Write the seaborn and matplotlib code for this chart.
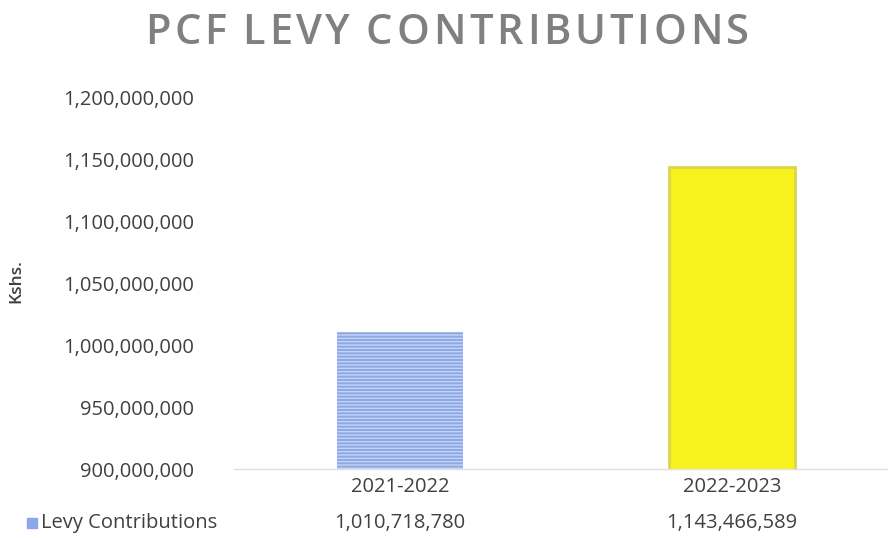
import matplotlib
matplotlib.use("Agg")
import matplotlib.pyplot as plt
import seaborn as sns
import pandas as pd
import matplotlib.transforms as mtrans

categories = ["2021-2022", "2022-2023"]
values = [1010718780, 1143466589]
series_name = "Levy Contributions"
value_labels = ["1,010,718,780", "1,143,466,589"]
yticks = [900000000, 950000000, 1000000000, 1050000000, 1100000000, 1150000000, 1200000000]
title = "PCF LEVY CONTRIBUTIONS"

sns.set_theme(style="white")
plt.rcParams['font.family'] = ['Open Sans', 'DejaVu Sans']

df = pd.DataFrame({"Year": categories, "Value": values})

fig = plt.figure(figsize=(8.88, 5.38), dpi=100)
ax = fig.add_axes([234/888, 1-469/538, (888-234)/888, (469-97)/538])

sns.barplot(data=df, x="Year", y="Value", ax=ax, width=0.38,
            palette=["#8CA8E8", "#F7F21C"], hue="Year", legend=False, saturation=1)

bars = ax.patches
bars[0].set_edgecolor("#C6D4F4")
bars[0].set_hatch("-----")
bars[0].set_linewidth(0.0)
bars[1].set_edgecolor("#D9D64E")
bars[1].set_linewidth(2)

txtc = "#404040"
fs = 14.5
ax.set_ylim(900000000, 1200000000)
ax.set_xlim(-0.5, 1.47)
ax.set_yticks(yticks)
ax.set_yticklabels([f"{v:,}" for v in yticks], fontsize=fs, color=txtc)
ax.tick_params(axis='y', pad=29, length=0)
ax.tick_params(axis='x', pad=6, length=0, labelsize=fs, labelcolor=txtc)
ax.set_xlabel("")
ax.set_ylabel("")
fig.text(16/888, 1-281/538, "Kshs.", rotation=90, ha="center", va="center",
         fontsize=12.5, fontweight="semibold", color=txtc)

for s in ["top", "right", "left"]:
    ax.spines[s].set_visible(False)
ax.spines["bottom"].set_color("#E0E0E0")
ax.spines["bottom"].set_linewidth(1)

trans = mtrans.blended_transform_factory(ax.transData, fig.transFigure)
for i, lab in enumerate(value_labels):
    ax.text(i, 1-523/538, lab, transform=trans, ha="center", va="center",
            fontsize=fs, color=txtc)

fig.patches.append(plt.Rectangle((27/888, 1-528/538), 10/888, 10/538,
                                 transform=fig.transFigure, color="#8CA8E8"))
fig.text(41/888, 1-523/538, series_name, ha="left", va="center",
         fontsize=fs, color=txtc)

# letter-spaced title
renderer = fig.canvas.get_renderer()
tfs = 30
px = tfs * 100 / 72
widths = []
for ch in title:
    if ch == " ":
        widths.append(0.2 * px)
        continue
    t = fig.text(0, 0, ch, fontsize=tfs, fontweight="semibold")
    widths.append(t.get_window_extent(renderer).width)
    t.remove()
x0, x1 = 145, 749
natural = sum(widths)
gap = (x1 - x0 - natural) / (len(title) - 1)
x = x0
for ch, w in zip(title, widths):
    if ch != " ":
        fig.text(x/888, 1-33/538, ch, ha="left", va="center", fontsize=tfs,
                 fontweight="semibold", color="#808080")
    x += w + gap

fig.savefig("out.png", dpi=100, facecolor="white")
